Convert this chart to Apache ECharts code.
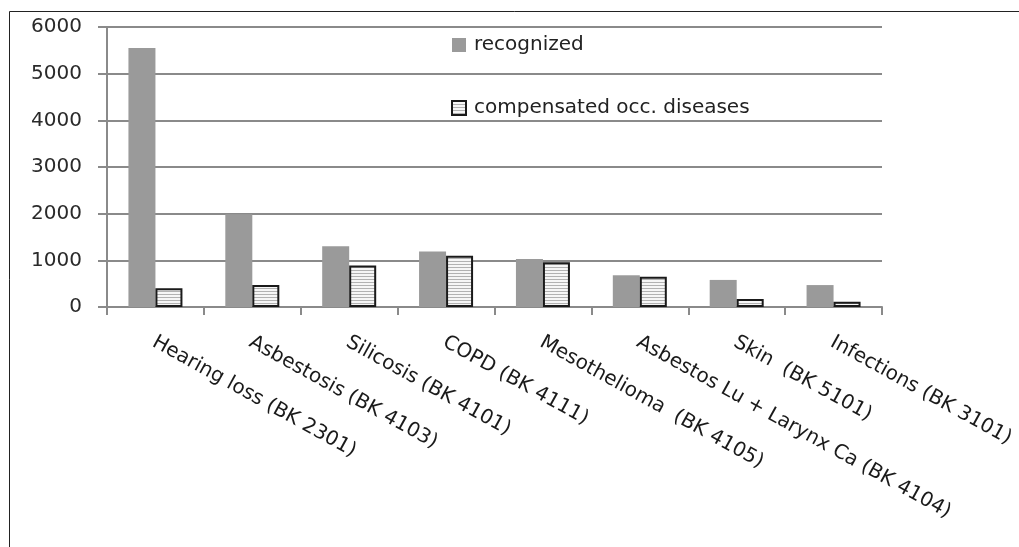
<!DOCTYPE html>
<html>
<head>
<meta charset="utf-8">
<script src="https://cdn.jsdelivr.net/npm/echarts@6/dist/echarts.min.js"></script>
<style>
  html, body { margin: 0; padding: 0; background: #ffffff; }
  #chart { width: 1019px; height: 547px; }
</style>
</head>
<body>
<div id="chart"></div>
<script>
// Occupational disease categories (German BK numbers)
const categories = [
  'Hearing loss (BK 2301)',
  'Asbestosis (BK 4103)',
  'Silicosis (BK 4101)',
  'COPD (BK 4111)',
  'Mesothelioma  (BK 4105)',
  'Asbestos Lu + Larynx Ca (BK 4104)',
  'Skin  (BK 5101)',
  'Infections (BK 3101)'
];
const recognized = [5550, 1990, 1300, 1190, 1030, 680, 580, 470];
const compensated = [400, 470, 890, 1100, 960, 650, 170, 110];
const seriesNames = ['recognized', 'compensated occ. diseases'];

// Light horizontal line hatching used for the compensated bars
function hatchPattern() {
  const c = document.createElement('canvas');
  c.width = 4;
  c.height = 3;
  const ctx = c.getContext('2d');
  ctx.fillStyle = '#f6f6f6';
  ctx.fillRect(0, 0, 4, 3);
  ctx.fillStyle = '#b2b2b2';
  ctx.fillRect(0, 0, 4, 1);
  return c;
}

const FONT = 'DejaVu Sans';
const GRID_COLOR = '#8a8a8a';

const chart = echarts.init(document.getElementById('chart'), null, { renderer: 'canvas' });
chart.setOption({
  backgroundColor: '#ffffff',
  animation: false,
  textStyle: { fontFamily: FONT },
  grid: {
    left: 107, right: 137, top: 27, bottom: 240,
    containLabel: false,
    outerBoundsMode: 'none'
  },
  legend: {
    orient: 'vertical',
    left: 451,
    top: 35,
    padding: 0,
    itemWidth: 14,
    itemHeight: 14,
    itemGap: 43,
    icon: 'rect',
    textStyle: { fontFamily: FONT, fontSize: 20, color: '#222', lineHeight: 20, padding: [0, 0, 0, 3] },
    data: seriesNames
  },
  xAxis: {
    type: 'category',
    data: categories,
    axisLine: { show: true, lineStyle: { color: GRID_COLOR, width: 2 } },
    axisTick: { show: true, length: 8, alignWithLabel: false, lineStyle: { color: GRID_COLOR, width: 2 } },
    axisLabel: {
      interval: 0,
      rotate: -29,
      margin: 35,
      padding: [0, 0, 0, -2],
      fontFamily: FONT,
      fontSize: 20,
      color: '#1a1a1a',
      hideOverlap: false
    }
  },
  yAxis: {
    type: 'value',
    min: 0,
    max: 6000,
    interval: 1000,
    axisLine: { show: true, lineStyle: { color: GRID_COLOR, width: 2 } },
    axisTick: { show: true, length: 9, lineStyle: { color: GRID_COLOR, width: 2 } },
    axisLabel: {
      margin: 25,
      fontFamily: FONT,
      fontSize: 20,
      color: '#2a2a2a',
      formatter: function (v) { return String(v); }
    },
    splitLine: { show: true, lineStyle: { color: GRID_COLOR, width: 2 } }
  },
  series: [
    {
      name: seriesNames[0],
      type: 'bar',
      data: recognized,
      barWidth: 27,
      barGap: '0%',
      itemStyle: { color: '#9a9a9a' }
    },
    {
      name: seriesNames[1],
      type: 'bar',
      data: compensated,
      barWidth: 27,
      barGap: '0%',
      itemStyle: {
        color: { image: hatchPattern(), repeat: 'repeat' },
        borderColor: '#1a1a1a',
        borderWidth: 2
      }
    }
  ],
  graphic: [
    // frame edges around the chart area
    { type: 'line', shape: { x1: 9.5, y1: 11.5, x2: 1019, y2: 11.5 }, style: { stroke: '#222', lineWidth: 1 } },
    { type: 'line', shape: { x1: 9.5, y1: 11.5, x2: 9.5, y2: 547 }, style: { stroke: '#222', lineWidth: 1 } }
  ]
});
</script>
</body>
</html>
